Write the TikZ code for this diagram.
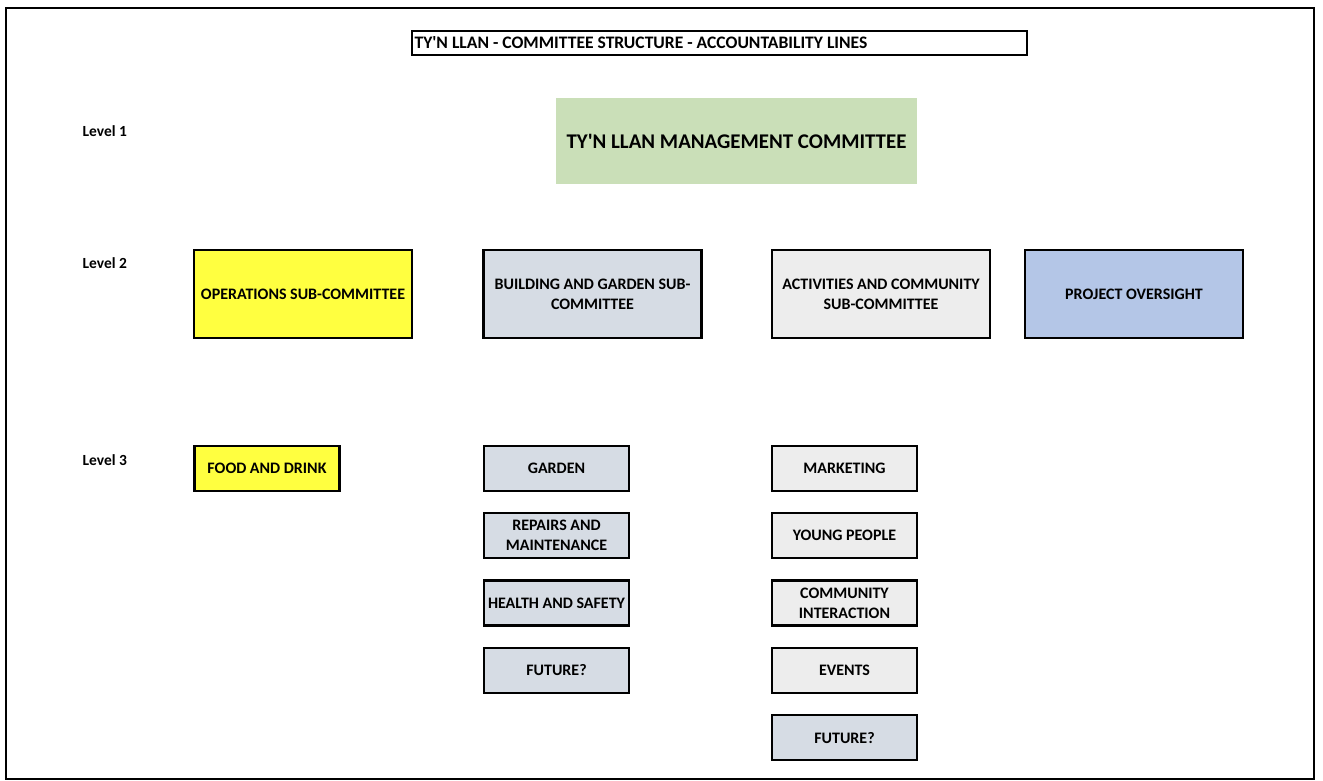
\documentclass[tikz,border=0pt]{standalone}
\usepackage{fontspec}
\setmainfont{Carlito}
\usetikzlibrary{positioning}

\definecolor{opsyellow}{HTML}{FFFF40}
\definecolor{bldgrey}{HTML}{D6DCE4}
\definecolor{actgrey}{HTML}{EDEDED}
\definecolor{projblue}{HTML}{B4C6E7}
\definecolor{mgmtgreen}{HTML}{CADFB8}

\begin{document}
\begin{tikzpicture}[x=0.02cm, y=-0.02cm,
  every node/.style={font=\bfseries\fontsize{9.1}{11.4}\selectfont, execute at begin node={\spaceskip=0pt\xspaceskip=0pt}},
  lvlbox/.style={draw, line width=1.3pt, align=center, inner sep=1pt, minimum width=4.36cm, minimum height=1.76cm},
  subbox/.style={draw, line width=1.3pt, align=center, inner sep=1pt, minimum width=2.9cm, minimum height=0.9cm},
  lvllabel/.style={anchor=west, font=\bfseries\fontsize{8.8}{10}\selectfont}]
\useasboundingbox (0,0) rectangle (1323,781);

% Outer frame
\draw[line width=1.4pt] (6,8) rectangle (1314,779);

% Title bar
\node[draw, line width=1pt, minimum width=12.3cm, minimum height=0.48cm, text width=12.2cm, align=left, inner sep=0pt, font=\bfseries\fontsize{10}{12}\selectfont] (title) at (719.5,43) {TY\textquotesingle N LLAN - COMMITTEE STRUCTURE - ACCOUNTABILITY LINES};

% Level labels
\node[lvllabel] (lvl1) at (76.5,131) {Level 1};
\node[lvllabel] (lvl2) at (76.5,263) {Level 2};
\node[lvllabel] (lvl3) at (76.5,460) {Level 3};

% Level 1
\node[fill=mgmtgreen, minimum width=7.22cm, minimum height=1.72cm, font=\bfseries\fontsize{11.9}{14}\selectfont] (mgmt) at (736.5,141) {TY\textquotesingle N LLAN MANAGEMENT COMMITTEE};

% Level 2
\node[lvlbox, fill=opsyellow] (ops) at (303,294) {OPERATIONS SUB-COMMITTEE};
\node[lvlbox, fill=bldgrey] (bldg) at (592.5,294) {BUILDING AND GARDEN SUB-\\COMMITTEE};
\node[lvlbox, fill=actgrey] (act) at (881,294) {ACTIVITIES AND COMMUNITY\\SUB-COMMITTEE};
\node[lvlbox, fill=projblue] (proj) at (1134,294) {PROJECT OVERSIGHT};

% Level 3 - operations
\node[subbox, fill=opsyellow] (food) at (267,468.5) {FOOD AND DRINK};

% Level 3 - building and garden
\node[subbox, fill=bldgrey] (garden) at (556.5,468.5) {GARDEN};
\node[subbox, fill=bldgrey, below=0.4cm of garden] (repairs) {REPAIRS AND\\MAINTENANCE};
\node[subbox, fill=bldgrey, below=0.4cm of repairs] (health) {HEALTH AND SAFETY};
\node[subbox, fill=bldgrey, below=0.4cm of health] (bldgfuture) {FUTURE?};

% Level 3 - activities and community
\node[subbox, fill=actgrey] (marketing) at (844.5,468.5) {MARKETING};
\node[subbox, fill=actgrey, below=0.4cm of marketing] (young) {YOUNG PEOPLE};
\node[subbox, fill=actgrey, below=0.4cm of young] (community) {COMMUNITY\\INTERACTION};
\node[subbox, fill=actgrey, below=0.4cm of community] (events) {EVENTS};
\node[subbox, fill=bldgrey, below=0.4cm of events] (actfuture) {FUTURE?};

\end{tikzpicture}
\end{document}
